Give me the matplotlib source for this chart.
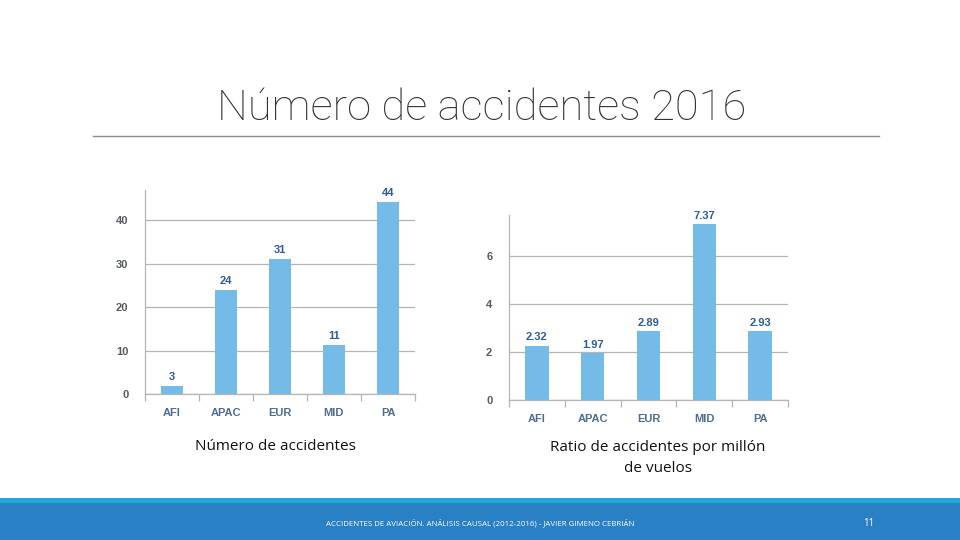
import matplotlib
matplotlib.use("Agg")
import matplotlib.pyplot as plt
import numpy as np

REGIONS = ["AFI", "APAC", "EUR", "MID", "PA"]

# left chart: number of accidents (bar heights as drawn, labels as printed)
ACCIDENT_HEIGHTS = [1.8, 24, 31, 11.2, 44.2]
ACCIDENT_LABELS = ["3", "24", "31", "11", "44"]
ACCIDENT_TICKS = [0, 10, 20, 30, 40]

# right chart: accidents per million flights
RATIO_HEIGHTS = [2.27, 1.94, 2.87, 7.33, 2.87]
RATIO_LABELS = ["2.32", "1.97", "2.89", "7.37", "2.93"]
RATIO_TICKS = [0, 2, 4, 6]

BAR_COLOR = "#74bbe7"
VALUE_COLOR = "#2f5b96"
TICK_COLOR = "#555b63"
CAT_COLOR = "#4f6d8f"
GRID_COLOR = "#b5b5b5"

W, H = 960, 540


def px_axes(fig, x0, y_top, x1, y_bottom):
    return fig.add_axes([x0 / W, 1 - y_bottom / H, (x1 - x0) / W, (y_bottom - y_top) / H])


def bar_panel(ax, heights, labels, yticks, ymax, offset):
    x = np.arange(len(REGIONS))
    ax.bar(x, heights, width=0.42, color=BAR_COLOR, zorder=3)
    ax.set_xlim(-0.5, len(REGIONS) - 0.5)
    ax.set_ylim(0, ymax)
    ax.set_yticks(yticks)
    ax.yaxis.grid(True, color=GRID_COLOR, linewidth=0.9, zorder=0)
    ax.set_xticks(x)
    ax.set_xticklabels(REGIONS, fontsize=8, color=CAT_COLOR, fontweight="bold",
                       family="Liberation Sans")
    ax.set_xticks(np.arange(-0.5, len(REGIONS)), minor=True)
    ax.tick_params(axis="x", which="major", length=0, pad=10)
    ax.tick_params(axis="x", which="minor", length=5, color=GRID_COLOR, width=0.9)
    ax.tick_params(axis="y", length=0, pad=12, labelsize=8, labelcolor=TICK_COLOR)
    for lbl in ax.get_yticklabels():
        lbl.set_fontweight("bold")
        lbl.set_family("Liberation Sans")
    for side in ("top", "right"):
        ax.spines[side].set_visible(False)
    for side in ("left", "bottom"):
        ax.spines[side].set_color(GRID_COLOR)
        ax.spines[side].set_linewidth(0.9)
    for xi, h, t in zip(x, heights, labels):
        ax.text(xi, h + offset, t, ha="center", va="bottom", fontsize=8,
                color=VALUE_COLOR, fontweight="bold", family="Liberation Sans")


fig = plt.figure(figsize=(9.6, 5.4), dpi=100)
fig.patch.set_facecolor("white")

ax1 = px_axes(fig, 145, 190, 415, 394)
bar_panel(ax1, ACCIDENT_HEIGHTS, ACCIDENT_LABELS, ACCIDENT_TICKS, 46.9, 0.9)

ax2 = px_axes(fig, 509, 215, 788, 400)
bar_panel(ax2, RATIO_HEIGHTS, RATIO_LABELS, RATIO_TICKS, 7.71, 0.15)

# slide title and rule
fig.text(482 / W, 1 - 108 / H, "Número de accidentes 2016", ha="center", va="center",
         fontsize=31.3, color="#333333", family="Roboto", fontweight="light")
fig.add_artist(plt.Line2D([93 / W, 879 / W], [1 - 136 / H, 1 - 136 / H],
                          color="#8c8c8c", linewidth=1.0))

# captions
fig.text(275 / W, 1 - 446 / H, "Número de accidentes", ha="center", va="center",
         fontsize=11, color="#111111", family="Open Sans")
fig.text(658 / W, 1 - 458 / H, "Ratio de accidentes por millón\nde vuelos", ha="center",
         va="center", fontsize=11, color="#111111", family="Open Sans", linespacing=1.5)

# footer bars
fig.add_artist(plt.Rectangle((0, 1 - 503 / H), 1, 5 / H, transform=fig.transFigure,
                             color="#22a6de", linewidth=0))
fig.add_artist(plt.Rectangle((0, 0), 1, 37 / H, transform=fig.transFigure,
                             color="#2a80c4", linewidth=0))
fig.text(480 / W, 1 - 523 / H,
         "ACCIDENTES DE AVIACIÓN. ANÁLISIS CAUSAL (2012-2016) - JAVIER GIMENO CEBRIÁN",
         ha="center", va="center", fontsize=5.7, color="white", family="Open Sans")
fig.text(869 / W, 1 - 523 / H, "11", ha="center", va="center", fontsize=7,
         color="white", family="Open Sans")

fig.savefig("out.png", dpi=100)
